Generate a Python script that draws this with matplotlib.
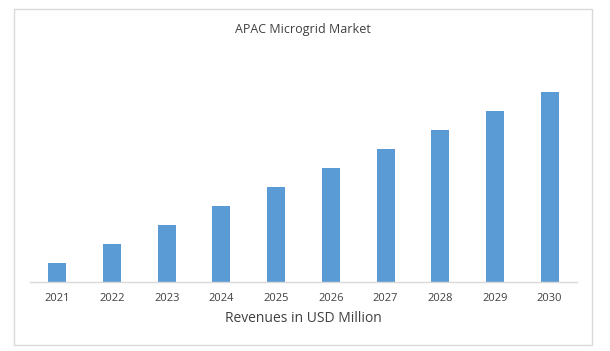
import matplotlib
matplotlib.use("Agg")
import matplotlib.pyplot as plt
from matplotlib.patches import Rectangle

years = ["2021", "2022", "2023", "2024", "2025", "2026", "2027", "2028", "2029", "2030"]
revenues = [1.0, 2.0, 3.0, 4.0, 5.0, 6.0, 7.0, 8.0, 9.0, 10.0]

W, H = 610, 351
fig = plt.figure(figsize=(W / 100, H / 100), dpi=100)
fig.patch.set_facecolor("white")
fig.patches.append(Rectangle((14 / W, 1 - 345 / H), (592 - 14) / W, (345 - 9) / H,
                             transform=fig.transFigure, fill=False,
                             edgecolor="#d9d9d9", linewidth=1.0))

ax = fig.add_axes([30 / W, 1 - 282 / H, (577 - 30) / W, (282 - 60) / H])
x = list(range(len(years)))
ax.bar(x, revenues, width=0.33, color="#5b9bd5")
ax.set_xlim(-0.5, len(years) - 0.5)
ax.set_ylim(0, 222 / 19)
ax.set_xticks(x)
ax.set_xticklabels(years, fontsize=8, color="#404040", family="Open Sans")
ax.tick_params(axis="x", length=0, pad=8)
ax.set_yticks([])
for s in ["top", "right", "left"]:
    ax.spines[s].set_visible(False)
ax.spines["bottom"].set_color("#d9d9d9")
ax.spines["bottom"].set_linewidth(1.0)

fig.text(303 / W, 1 - 29 / H, "APAC Microgrid Market", ha="center", va="center",
         fontsize=9, color="#404040", family="Open Sans")
fig.text(303 / W, 1 - 319 / H, "Revenues in USD Million", ha="center", va="center",
         fontsize=10, color="#404040", family="Open Sans")

fig.savefig("out.png", dpi=100)
